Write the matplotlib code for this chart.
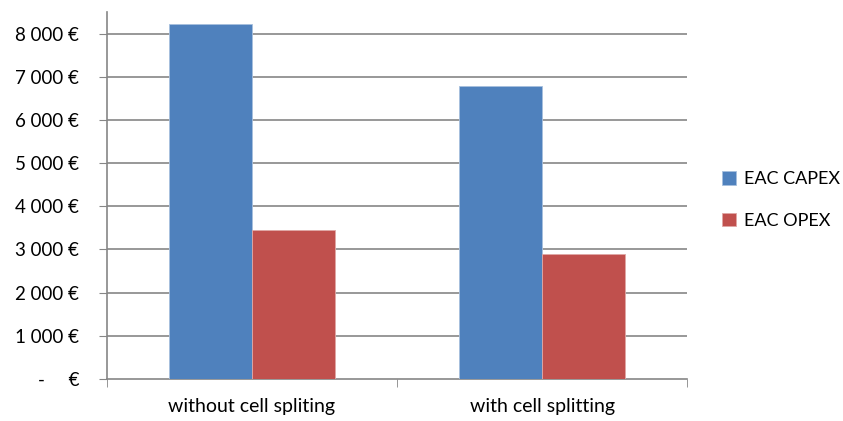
import matplotlib.pyplot as plt
import numpy as np

categories = ['without cell spliting', 'with cell splitting']
capex = [8230, 6790]
opex = [3440, 2890]
ytick_vals = [0, 1000, 2000, 3000, 4000, 5000, 6000, 7000, 8000]
ytick_labels = ['-     €', '1 000 €', '2 000 €', '3 000 €', '4 000 €',
                '5 000 €', '6 000 €', '7 000 €', '8 000 €']

plt.rcParams['font.family'] = ['Lato', 'DejaVu Sans']
grey = '#868686'

fig = plt.figure(figsize=(8.43, 4.21), dpi=100)
ax = fig.add_axes([107 / 843, 1 - 379 / 421, 580 / 843, 367 / 421])

x = np.arange(len(categories))
w = 0.286
ax.bar(x - w / 2, capex, w, color='#4F81BD', edgecolor='#A7C0DE', linewidth=0.6,
       label='EAC CAPEX', zorder=3)
ax.bar(x + w / 2, opex, w, color='#C0504D', edgecolor='#DFA8A6', linewidth=0.6,
       label='EAC OPEX', zorder=3)

ax.set_xlim(-0.5, 1.5)
ax.set_ylim(0, 8500)
ax.set_yticks(ytick_vals)
ax.set_yticklabels(ytick_labels, fontsize=13.5)
ax.set_xticks(x)
ax.set_xticklabels(categories, fontsize=14)
ax.set_xticks([-0.5, 0.5, 1.5], minor=True)
ax.tick_params(axis='x', which='major', length=0, pad=14)
ax.tick_params(axis='x', which='minor', length=6, color=grey, direction='out')
ax.tick_params(axis='y', length=6, color=grey, direction='out', pad=14)

for yv in ytick_vals[1:]:
    ax.axhline(yv, color=grey, linewidth=1.2, zorder=1)

for side in ['top', 'right']:
    ax.spines[side].set_visible(False)
for side in ['left', 'bottom']:
    ax.spines[side].set_color(grey)
    ax.spines[side].set_linewidth(1.2)

fig.legend(loc='center left', bbox_to_anchor=(706 / 843, 1 - 200 / 421),
           frameon=False, fontsize=13, handlelength=0.75, handleheight=0.75,
           labelspacing=1.4, handletextpad=0.45)

fig.savefig('out.png', dpi=100)
